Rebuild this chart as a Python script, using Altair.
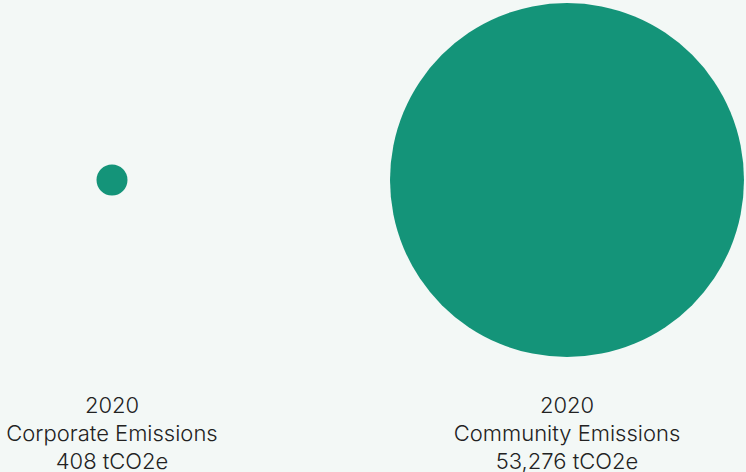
import altair as alt
import pandas as pd

categories = ["Corporate Emissions", "Community Emissions"]
years = ["2020", "2020"]
values = [408, 53276]
positions = [0, 1]

df = pd.DataFrame({
    "cat": categories,
    "year": years,
    "value": values,
    "pos": positions,
})
df["label"] = [f"{y}\n{c}\n{v:,} tCO2e" for y, c, v in zip(years, categories, values)]

xscale = alt.Scale(domain=[-0.24615, 1.39341])

base = alt.Chart(df)

circles = base.mark_circle(opacity=1, color="#149479").encode(
    x=alt.X("pos:Q", scale=xscale, axis=None),
    y=alt.value(180),
    size=alt.Size("value:Q", scale=alt.Scale(domain=[0, 53276], range=[0, 125316], zero=True), legend=None),
)

labels = base.mark_text(
    font="Inter", fontSize=22, fontWeight=300, color="#222222", lineBreak="\n",
    lineHeight=28, baseline="middle", align="center"
).encode(
    x=alt.X("pos:Q", scale=xscale, axis=None),
    y=alt.value(406),
    text="label:N",
)

chart = (circles + labels).properties(
    width=746, height=472, background="#f3f8f6", padding=0,
    autosize=alt.AutoSizeParams(type="none"),
).configure_view(stroke=None)

chart.save("out.html", embed_options={"renderer": "svg", "actions": False})
